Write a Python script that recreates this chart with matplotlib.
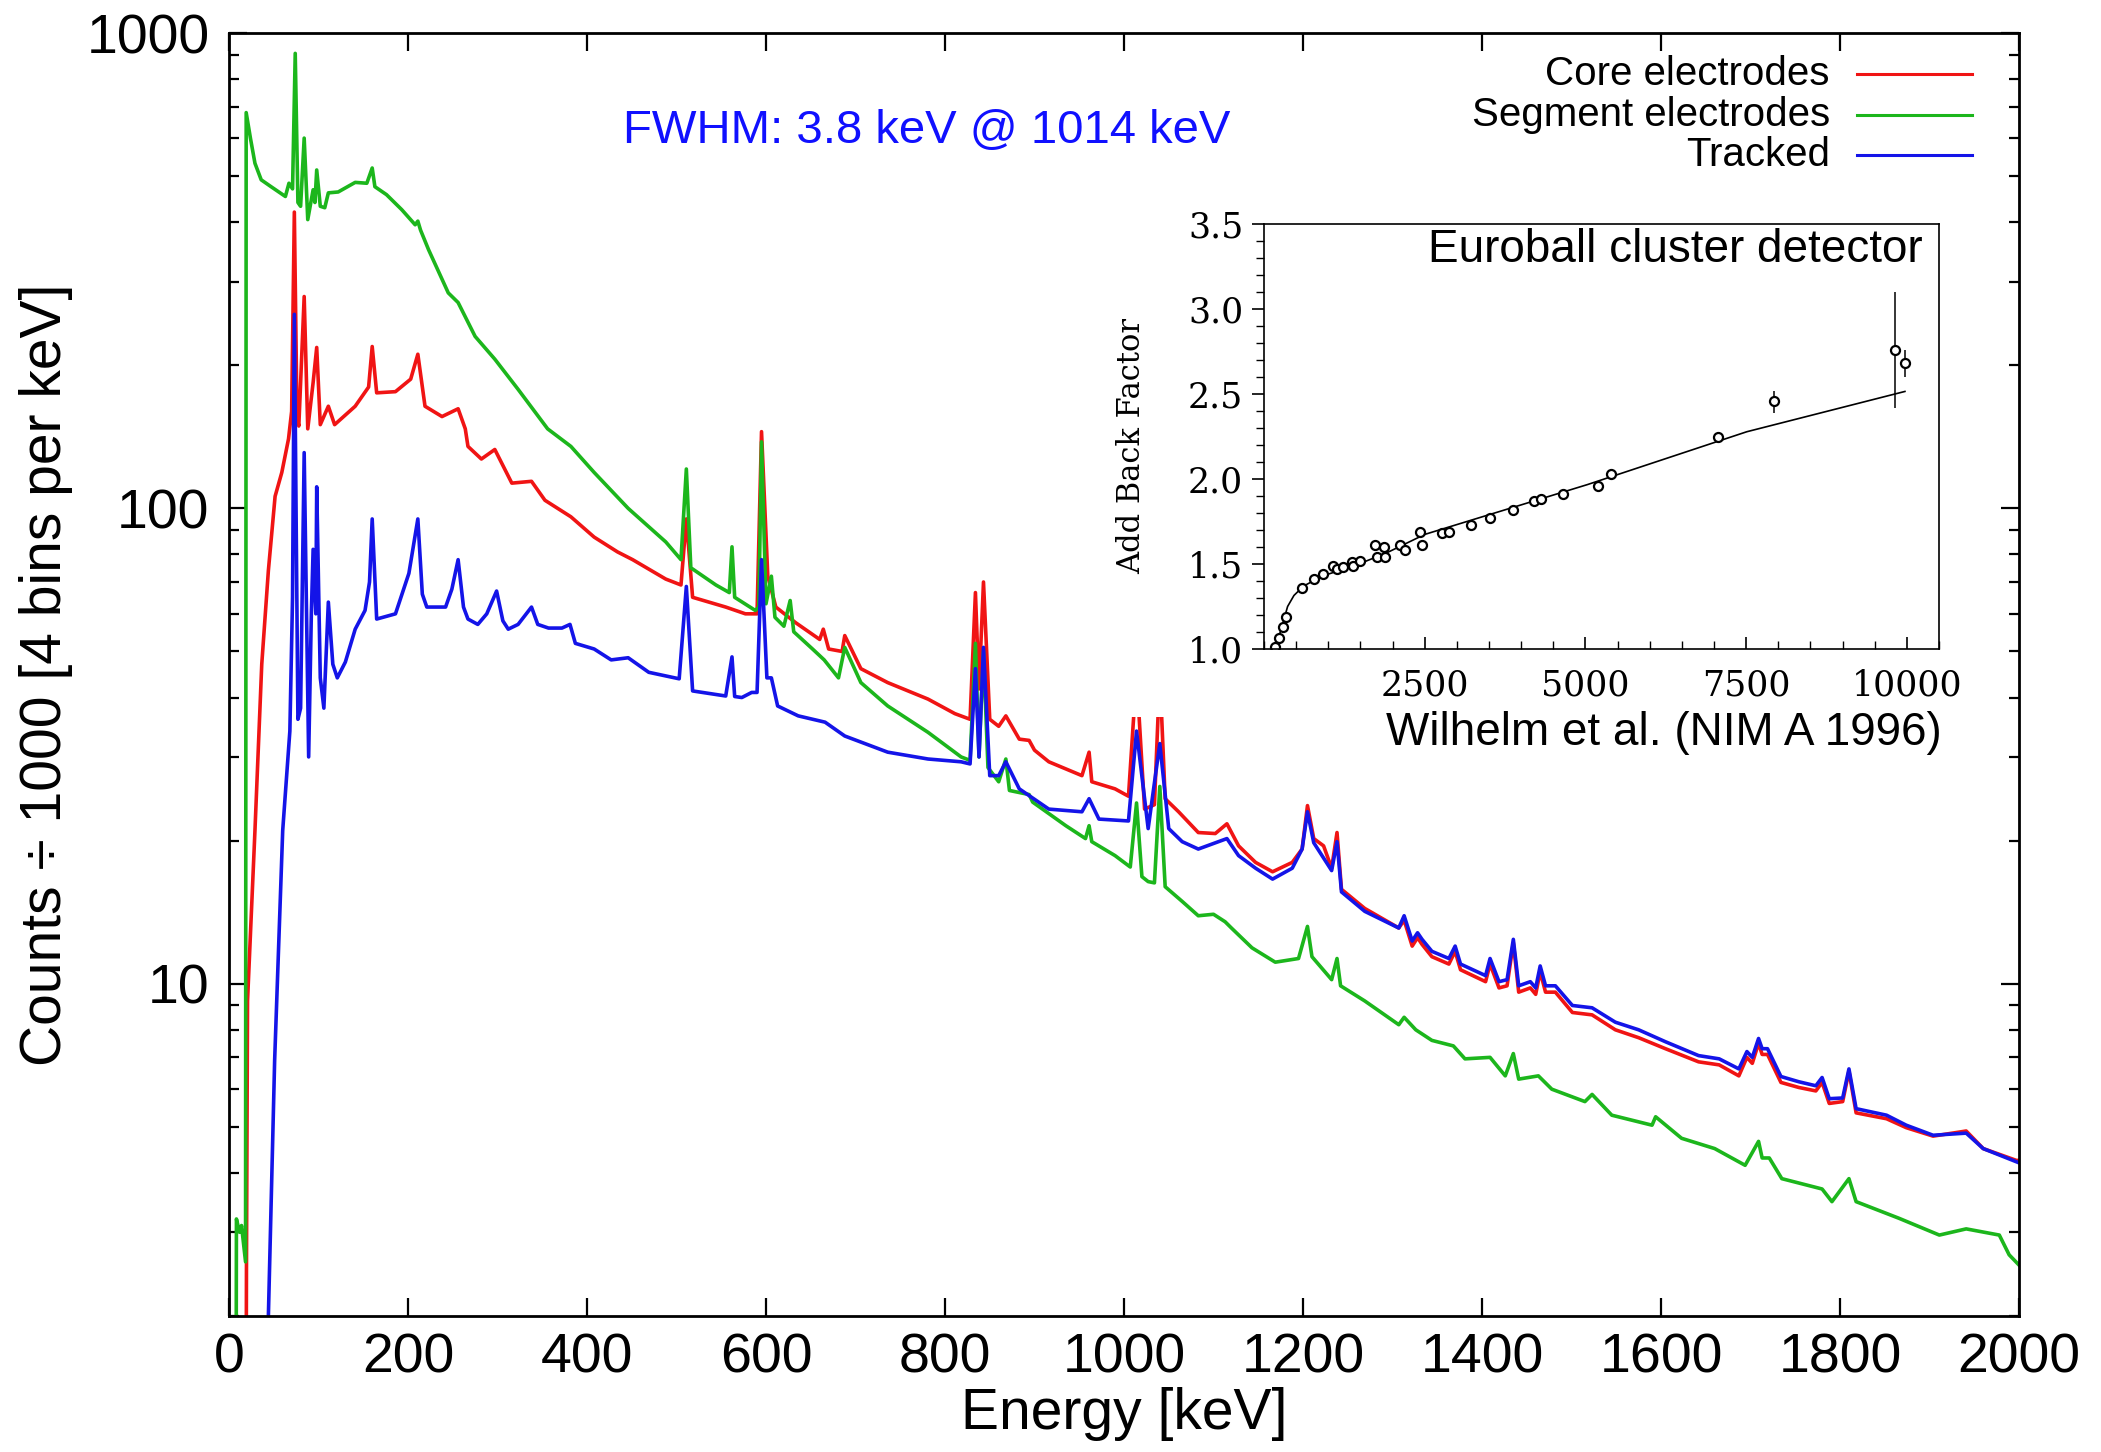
import numpy as np
import matplotlib
matplotlib.use("Agg")
import matplotlib.pyplot as plt
from matplotlib.patches import Rectangle
from matplotlib.ticker import MultipleLocator, FixedLocator, NullFormatter

plt.rcParams['font.family'] = ['Liberation Sans', 'DejaVu Sans']

# ---- spectra (energy in keV, counts / 1000) ----
core_E = [19.0, 19.5, 20.7, 29, 36.6, 44, 51.5, 59, 66.5, 70, 73, 76, 78, 84, 88, 94, 98, 102, 111, 118,
          141, 156, 160, 165, 186, 203, 211, 219, 238, 256, 264, 267, 282, 297, 316, 338, 353, 382, 408, 434,
          451, 488, 505, 511, 518, 555, 577, 590, 595, 602, 611, 633, 660, 664, 670, 685, 688, 706, 736, 781,
          811, 828, 834, 838, 843, 850, 860, 868, 883, 894, 900, 916, 953, 961, 964, 990, 1005, 1014, 1023, 1034,
          1040, 1046, 1061, 1083, 1102, 1115, 1128, 1147, 1166, 1188, 1199, 1205, 1212, 1223, 1232, 1238, 1243, 1269, 1307, 1313,
          1322, 1328, 1333, 1344, 1363, 1370, 1376, 1404, 1409, 1419, 1428, 1435, 1441, 1454, 1460, 1465, 1471, 1482, 1501, 1523,
          1549, 1575, 1605, 1642, 1665, 1687, 1696, 1702, 1709, 1713, 1719, 1734, 1754, 1773, 1780, 1788, 1803, 1810, 1818, 1852,
          1874, 1904, 1941, 1960, 1997, 2000]
core_counts = [1.0, 2.5, 9.2, 21, 47, 74, 106, 119, 140, 160, 420, 155, 149, 279, 147, 184, 218, 150, 164, 150,
               164, 180, 219, 175, 176, 187, 211, 164, 156, 162, 147, 135, 127, 133, 113, 114, 104, 96, 87, 81,
               78, 71, 69, 95, 65, 62, 60, 60, 145, 72, 62, 57.5, 53, 55.7, 50.6, 50, 54, 46, 43, 39.7,
               37, 36, 66.5, 41.7, 70, 36, 34.8, 36.6, 32.7, 32.5, 31, 29.3, 27.4, 30.7, 26.6, 25.7, 24.8, 45, 23.3, 23.8,
               45, 24.5, 23, 20.8, 20.7, 21.7, 19.5, 18, 17.2, 18, 19.2, 23.7, 20.2, 19.5, 17.5, 20.8, 15.8, 14.4, 13.1, 13.6,
               12.0, 12.5, 12.1, 11.4, 11.0, 11.7, 10.7, 10.1, 11.0, 9.8, 9.9, 12.2, 9.6, 9.8, 9.5, 10.6, 9.6, 9.6, 8.7, 8.6,
               8.0, 7.7, 7.3, 6.85, 6.75, 6.4, 7.0, 6.8, 7.5, 7.1, 7.1, 6.2, 6.05, 5.95, 6.2, 5.6, 5.65, 6.55, 5.35, 5.2,
               4.98, 4.78, 4.9, 4.5, 4.25, 4.25]

seg_E = [8, 8.3, 10, 12, 14, 18.5, 19.2, 24, 29, 36, 47, 63, 67, 71, 74, 77, 80, 84, 88, 94,
         96, 98, 102, 107, 111, 122, 141, 154, 160, 163, 176, 193, 208, 211, 214, 223, 245, 256, 275, 297,
         323, 356, 382, 408, 446, 488, 505, 511, 516, 544, 559, 562, 565, 588, 592, 595, 600, 606, 610, 620,
         627, 631, 652, 665, 681, 688, 706, 736, 781, 818, 828, 834, 838, 843, 848, 860, 868, 872, 894, 898,
         935, 957, 961, 964, 990, 1007, 1014, 1020, 1027, 1034, 1040, 1046, 1065, 1083, 1100, 1113, 1120, 1143, 1169, 1195,
         1205, 1210, 1232, 1238, 1242, 1269, 1307, 1313, 1326, 1344, 1368, 1381, 1409, 1426, 1435, 1441, 1463, 1478, 1515, 1523,
         1545, 1590, 1594, 1623, 1660, 1694, 1709, 1713, 1721, 1735, 1780, 1791, 1810, 1818, 1866, 1911, 1941, 1978, 1989, 2000]
seg_counts = [1.5, 3.2, 3.1, 3.0, 3.1, 2.6, 680, 600, 532, 491, 475, 453, 483, 470, 906, 440, 432, 601, 405, 468,
              440, 515, 432, 429, 461, 463, 485, 483, 520, 475, 457, 425, 395, 402, 385, 350, 284, 271, 230, 206,
              178, 147, 135, 119, 100, 85, 78, 121, 75, 69, 66.5, 83, 65, 61, 62, 138, 63, 72, 59, 56.5,
              64, 55, 50.6, 48, 44, 51, 43, 38.4, 33.8, 30, 29.5, 52, 30, 50, 28.5, 26.6, 29.7, 25.5, 25, 24.1,
              21.5, 20.2, 21.5, 19.9, 18.6, 17.6, 24, 16.8, 16.4, 16.3, 26, 16, 14.9, 13.9, 14.0, 13.5, 13.1, 11.9, 11.1, 11.3,
              13.2, 11.4, 10.2, 11.3, 9.9, 9.2, 8.2, 8.5, 8.0, 7.6, 7.4, 6.95, 7.0, 6.4, 7.13, 6.3, 6.4, 6.0, 5.65, 5.85,
              5.29, 5.04, 5.25, 4.73, 4.5, 4.15, 4.66, 4.3, 4.3, 3.89, 3.7, 3.48, 3.89, 3.48, 3.21, 2.96, 3.05, 2.96, 2.69, 2.56]

trk_E = [43.6, 44, 51, 54, 60, 68, 71, 73, 77, 80, 84, 89, 92, 94, 97, 98, 102, 106, 111, 116,
         121, 130, 141, 152, 157, 160, 165, 186, 201, 211, 216, 221, 242, 249, 256, 262, 267, 278, 288, 299,
         306, 312, 323, 338, 345, 357, 372, 381, 387, 408, 427, 446, 469, 503, 511, 518, 555, 562, 565, 573,
         584, 590, 595, 601, 606, 613, 636, 666, 688, 736, 781, 818, 828, 834, 838, 843, 850, 860, 868, 883,
         916, 953, 961, 972, 1005, 1014, 1027, 1040, 1050, 1065, 1083, 1115, 1128, 1147, 1166, 1188, 1199, 1205, 1212, 1232,
         1238, 1243, 1269, 1307, 1313, 1322, 1328, 1333, 1344, 1363, 1370, 1376, 1404, 1409, 1419, 1428, 1435, 1441, 1454, 1460,
         1465, 1471, 1482, 1501, 1523, 1549, 1575, 1605, 1642, 1665, 1687, 1696, 1702, 1709, 1713, 1719, 1734, 1754, 1773, 1780,
         1788, 1803, 1810, 1818, 1852, 1874, 1904, 1941, 1960, 1997, 2000]
trk_counts = [1.5, 2.0, 6.9, 10, 21, 34, 65, 256, 36, 38, 131, 30, 60, 82, 60, 111, 44, 38, 63.5, 47,
              44, 47.5, 55.7, 61, 70, 95, 58.5, 60, 73, 95, 66, 62, 62, 67.6, 78, 62, 58.5, 57, 60, 67,
              58, 55.7, 57, 62, 57, 56, 56, 57, 52, 50.6, 48, 48.5, 45.2, 43.8, 68.5, 41.3, 40.3, 48.7, 40.2, 40,
              41, 41, 78, 44, 44, 38.4, 36.6, 35.5, 33.2, 30.7, 29.7, 29.3, 29, 46, 30, 51, 27.4, 27.4, 29.3, 25.7,
              23.3, 23, 24.5, 22.2, 22, 34, 21.2, 32, 21.2, 19.9, 19.2, 20.2, 18.6, 17.5, 16.6, 17.5, 19.2, 23, 19.8, 17.3,
              19.9, 15.6, 14.2, 13.1, 13.9, 12.3, 12.8, 12.4, 11.7, 11.3, 12.0, 11.0, 10.4, 11.3, 10.1, 10.2, 12.4, 9.9, 10.1, 9.8,
              10.9, 9.9, 9.9, 9.0, 8.9, 8.3, 8.0, 7.55, 7.06, 6.95, 6.62, 7.2, 7.0, 7.67, 7.3, 7.3, 6.38, 6.22, 6.1, 6.35,
              5.73, 5.75, 6.62, 5.46, 5.29, 5.04, 4.8, 4.85, 4.5, 4.22, 4.2]

# ---- inset: add-back factor (Wilhelm et al.) ----
ab_E = [170, 240, 290, 340, 595, 775, 920, 1080, 1130, 1230, 1370, 1390, 1490, 1725, 1765, 1865, 1885, 2120, 2200, 2430,
        2460, 2770, 2870, 3215, 3510, 3870, 4205, 4315, 4650, 5190, 5400, 7065, 7940, 9810, 9970]
ab_factor = [1.01, 1.065, 1.13, 1.19, 1.36, 1.41, 1.44, 1.49, 1.47, 1.48, 1.51, 1.49, 1.52, 1.61, 1.54, 1.60, 1.54, 1.61, 1.58, 1.69,
             1.61, 1.68, 1.69, 1.73, 1.77, 1.82, 1.87, 1.88, 1.91, 1.96, 2.03, 2.25, 2.46, 2.76, 2.68]
err_E = [7940, 9810, 9970]
err_lo = [2.39, 2.42, 2.60]
err_hi = [2.52, 3.10, 2.76]
fit_E = [170, 270, 367, 466, 615, 913, 1409, 1905, 2500, 5030, 7510, 9970]
fit_factor = [1.0, 1.12, 1.25, 1.315, 1.37, 1.43, 1.49, 1.565, 1.674, 1.967, 2.278, 2.515]

red = '#f01414'
green = '#1cb61c'
blue = '#1414e8'

W, H = 2101, 1452
fig = plt.figure(figsize=(W / 100, H / 100), dpi=100)
ax = fig.add_axes([229 / W, 1 - 1316 / H, 1790 / W, 1283 / H])

ax.plot(core_E, core_counts, color=red, lw=2.6)
ax.plot(seg_E, seg_counts, color=green, lw=2.6)
ax.plot(trk_E, trk_counts, color=blue, lw=2.6)

ax.set_yscale('log')
ax.set_xlim(0, 2000)
ax.set_ylim(2, 1000)
ax.xaxis.set_major_locator(MultipleLocator(200))
ax.yaxis.set_major_locator(FixedLocator([10, 100, 1000]))
ax.set_yticklabels(['10', '100', '1000'])
ax.yaxis.set_minor_formatter(NullFormatter())
ax.tick_params(which='both', direction='in', top=True, right=True, labelsize=40, width=1.6)
ax.tick_params(which='major', length=13)
ax.tick_params(which='minor', length=7)
ax.tick_params(axis='y', pad=14)
ax.tick_params(axis='x', pad=12)
for s in ax.spines.values():
    s.set_linewidth(2)

ax.set_xlabel('Energy [keV]', fontsize=41, labelpad=2)
ax.set_ylabel('Counts \u00f7 1000 [4 bins per keV]', fontsize=41, labelpad=10)

ax.text(0.39, 0.924, 'FWHM: 3.8 keV @ 1014 keV', color='#1010ff', fontsize=34,
        ha='center', va='center', transform=ax.transAxes)

# legend drawn by hand, text right of the sample line
leg = [('Core electrodes', red), ('Segment electrodes', green), ('Tracked', blue)]
for i, (lab, c) in enumerate(leg):
    yl = 1 - (74 + 40.5 * i - 33) / 1283
    ax.plot([0.9095, 0.9737], [yl, yl], color=c, lw=2.2, transform=ax.transAxes, clip_on=False)
    ax.text(0.8944, yl, lab, fontsize=29, ha='right', va='center', transform=ax.transAxes)

# white panel that the inset picture sits on
fig.patches.append(Rectangle((1110 / W, 1 - 717 / H), (1965 - 1110) / W, (717 - 190) / H,
                             transform=fig.transFigure, facecolor='white', edgecolor='none', zorder=1))

ins = fig.add_axes([1264 / W, 1 - 649 / H, 675 / W, 425 / H])
ins.set_zorder(2)
ins.errorbar(err_E, [(a + b) / 2 for a, b in zip(err_lo, err_hi)],
             yerr=[(b - a) / 2 for a, b in zip(err_lo, err_hi)], fmt='none', ecolor='black', elinewidth=1.1)
ins.plot(fit_E, fit_factor, color='black', lw=1.2)
ins.plot(ab_E, ab_factor, 'o', mfc='white', mec='black', ms=6.5, mew=1.6)
ins.set_xlim(0, 10500)
ins.set_ylim(1.0, 3.5)
ins.xaxis.set_major_locator(FixedLocator([2500, 5000, 7500, 10000]))
ins.xaxis.set_minor_locator(MultipleLocator(500))
ins.yaxis.set_major_locator(MultipleLocator(0.5))
ins.yaxis.set_minor_locator(MultipleLocator(0.1))
ins.yaxis.set_major_formatter(plt.FuncFormatter(lambda v, p: '%.1f' % v))
ins.tick_params(axis='x', which='both', direction='in', labelsize=25, pad=14)
ins.tick_params(axis='y', which='both', direction='out', labelsize=25, pad=6)
ins.tick_params(which='major', length=9, width=1.2)
ins.tick_params(which='minor', length=6, width=1.0)
for s in ins.spines.values():
    s.set_linewidth(1.2)
for lab in ins.get_xticklabels() + ins.get_yticklabels():
    lab.set_family('DejaVu Serif')

fig.text(1132 / W, 1 - 446 / H, 'Add Back Factor', family='DejaVu Serif', fontsize=22,
         rotation=90, ha='center', va='center', zorder=3)
ins.text(0.976, 0.939, 'Euroball cluster detector', fontsize=33, ha='right', va='center',
         transform=ins.transAxes)
fig.text(1942 / W, 1 - 733 / H, 'Wilhelm et al. (NIM A 1996)', fontsize=33, ha='right', va='center', zorder=3)

fig.savefig('out.png', dpi=100, facecolor='white')
